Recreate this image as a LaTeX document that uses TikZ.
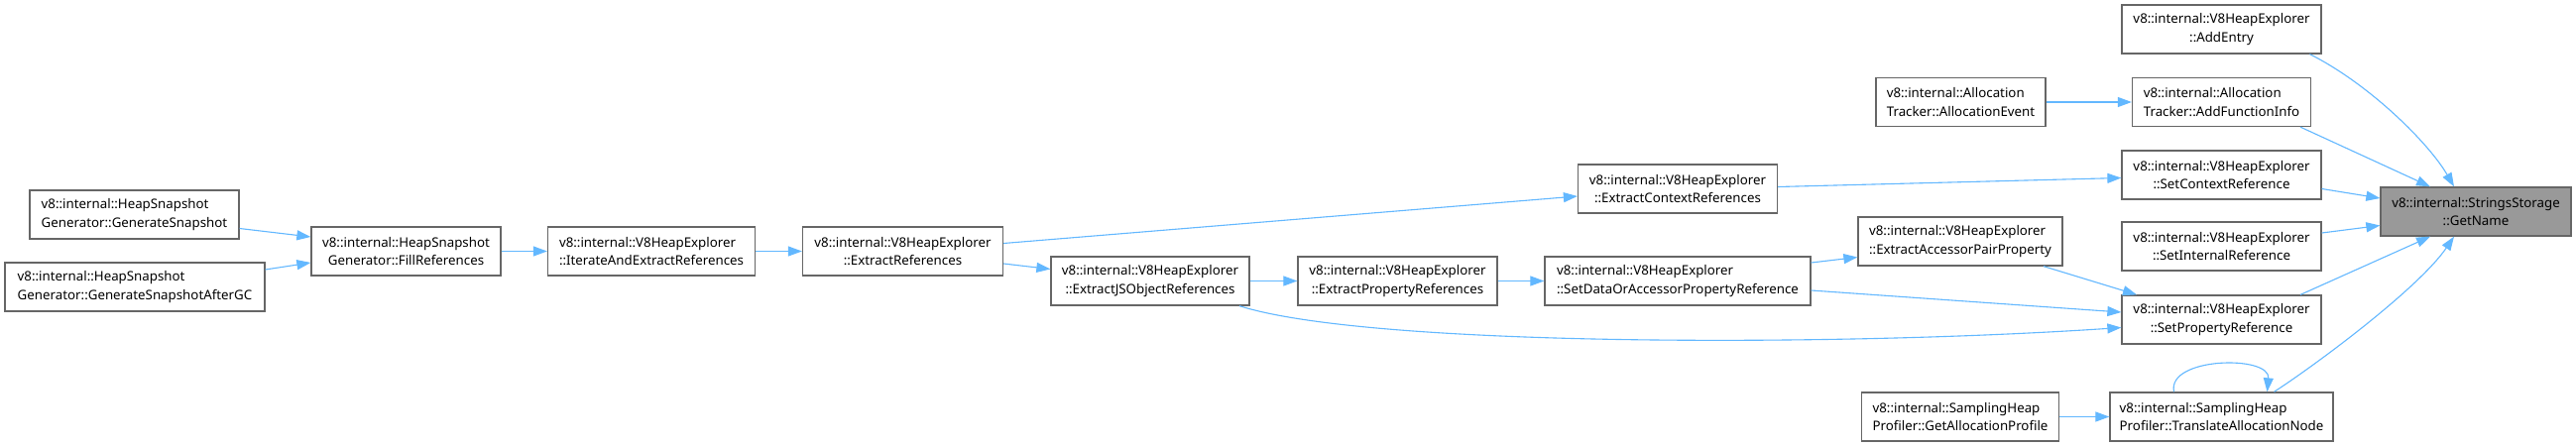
\documentclass[tikz,border=0pt]{standalone}
\usepackage{fontspec}
\setmainfont{Noto Sans}
\usetikzlibrary{arrows.meta}
\definecolor{edgeblue}{HTML}{63B8FF}
\definecolor{boxgray}{HTML}{666666}
\definecolor{fillgray}{HTML}{999999}
\begin{document}
\begin{tikzpicture}[x=1pt,y=-1pt,
  box/.style={draw=boxgray, line width=1.3pt, fill=white, rectangle, minimum height=49pt, inner sep=2pt,
    font=\fontsize{13.3}{18.3}\selectfont},
  lbox/.style={box, align=left},
  cbox/.style={box, align=center},
  edge/.style={draw=edgeblue, line width=1.1pt, -{Triangle[length=14pt,width=10pt]}},
]
\useasboundingbox (0,0) rectangle (2598,450);
\fill[white] (0,0) rectangle (2598,450);

% nodes
\node[lbox, minimum width=211pt] (gs) at (135.5,216.5) {v8::internal::HeapSnapshot\\Generator::GenerateSnapshot};
\node[lbox, minimum width=262pt] (gsgc) at (136,289.5) {v8::internal::HeapSnapshot\\Generator::GenerateSnapshotAfterGC};
\node[cbox, minimum width=191pt] (fill) at (409.5,253.5) {v8::internal::HeapSnapshot\\Generator::FillReferences};
\node[lbox, minimum width=209pt] (iter) at (657,253.5) {v8::internal::V8HeapExplorer\\::IterateAndExtractReferences};
\node[cbox, minimum width=202pt] (er) at (910.5,253.5) {v8::internal::V8HeapExplorer\\::ExtractReferences};
\node[cbox, minimum width=201pt] (ecr) at (1692,190.5) {v8::internal::V8HeapExplorer\\::ExtractContextReferences};
\node[cbox, minimum width=200pt] (ejs) at (1160,283.5) {v8::internal::V8HeapExplorer\\::ExtractJSObjectReferences};
\node[cbox, minimum width=201pt] (epr) at (1409.5,283.5) {v8::internal::V8HeapExplorer\\::ExtractPropertyReferences};
\node[lbox, minimum width=268pt] (sdap) at (1692,283.5) {v8::internal::V8HeapExplorer\\::SetDataOrAccessorPropertyReference};
\node[lbox, minimum width=206pt] (eapp) at (1977,243.5) {v8::internal::V8HeapExplorer\\::ExtractAccessorPairProperty};
\node[cbox, minimum width=201pt] (addentry) at (2240.5,29.5) {v8::internal::V8HeapExplorer\\::AddEntry};
\node[lbox, minimum width=171pt] (allocev) at (1977.5,103) {v8::internal::Allocation\\Tracker::AllocationEvent};
\node[lbox, minimum width=180pt] (addfi) at (2240.5,103) {v8::internal::Allocation\\Tracker::AddFunctionInfo};
\node[cbox, minimum width=201pt] (scr) at (2240.5,176.5) {v8::internal::V8HeapExplorer\\::SetContextReference};
\node[cbox, minimum width=192pt, fill=fillgray] (getname) at (2497,213.5) {v8::internal::StringsStorage\\::GetName};
\node[cbox, minimum width=201pt] (sir) at (2240.5,248.5) {v8::internal::V8HeapExplorer\\::SetInternalReference};
\node[cbox, minimum width=201pt] (spr) at (2240.5,322.5) {v8::internal::V8HeapExplorer\\::SetPropertyReference};
\node[lbox, minimum width=199pt] (gap) at (1977,420.5) {v8::internal::SamplingHeap\\Profiler::GetAllocationProfile};
\node[lbox, minimum width=225pt] (tan) at (2240.5,420.5) {v8::internal::SamplingHeap\\Profiler::TranslateAllocationNode};

% edges
\draw[edge] ([shift={(0,14)}]gs.east) -- ([shift={(0,-14.5)}]fill.west);
\draw[edge] ([shift={(0,-17.5)}]gsgc.east) -- ([shift={(0,11.5)}]fill.west);
\draw[edge] (fill.east) -- (iter.west);
\draw[edge] (iter.east) -- (er.west);
\draw[edge] ([shift={(0,-8)}]er.east) -- ([shift={(0,7.5)}]ecr.west);
\draw[edge] ([shift={(0,12.5)}]er.east) -- ([shift={(0,-12)}]ejs.west);
\draw[edge] (ejs.east) -- (epr.west);
\draw[edge] (epr.east) -- (sdap.west);
\draw[edge] ([shift={(0,-2)}]ecr.east) -- ([shift={(0,3)}]scr.west);
\draw[edge] ([shift={(0,-18.5)}]sdap.east) -- ([shift={(0,16)}]eapp.west);
\draw[edge] ([shift={(0,9.5)}]sdap.east) -- ([shift={(0,-7.5)}]spr.west);
\draw[edge] ([shift={(90,0)}]ejs.south) .. controls (1380,350) and (1850,350) .. ([shift={(0,8)}]spr.west);
\draw[edge] ([shift={(84,0)}]eapp.south) -- ([shift={(-85.5,0)}]spr.north);
\draw[edge] (allocev.east) -- (addfi.west);
\draw[edge] ([shift={(89,0)}]addentry.south) .. controls (2390,85) and (2450,145) .. ([shift={(-22,0)}]getname.north);
\draw[edge] ([shift={(79.5,0)}]addfi.south) -- ([shift={(-46,0)}]getname.north);
\draw[edge] ([shift={(0,14)}]scr.east) -- ([shift={(0,-13.5)}]getname.west);
\draw[edge] ([shift={(0,-13.5)}]sir.east) -- ([shift={(0,14)}]getname.west);
\draw[edge] ([shift={(79.5,0)}]spr.north) -- ([shift={(-46,0)}]getname.south);
\draw[edge] ([shift={(53,0)}]tan.north) .. controls (2340,365) and (2440,290) .. ([shift={(-22,0)}]getname.south);
\draw[edge] ([shift={(-48,0)}]tan.north) .. controls (2185,360) and (2290,358) .. ([shift={(46,0)}]tan.north);
\draw[edge] (gap.east) -- (tan.west);
\end{tikzpicture}
\end{document}
